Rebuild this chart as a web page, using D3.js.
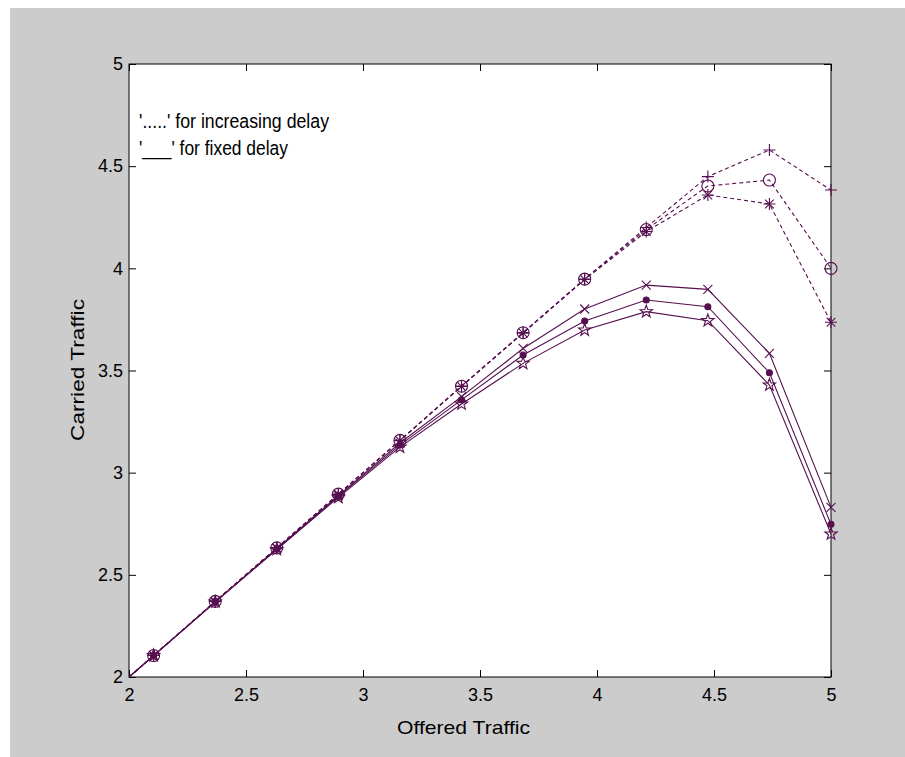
<!DOCTYPE html>
<html>
<head>
<meta charset="utf-8">
<script src="https://cdnjs.cloudflare.com/ajax/libs/d3/7.8.5/d3.min.js"></script>
<style>
html,body{margin:0;padding:0;background:#fff;}
svg{display:block;}
text{fill:#000;}
</style>
</head>
<body>
<svg id="chart" width="905" height="757"></svg>
<script>
// ---- data ----
const offered = [35/19, 40/19, 45/19, 50/19, 55/19, 60/19, 65/19, 70/19, 75/19, 80/19, 85/19, 90/19, 95/19];
// increasing delay (dashed)
const incPlus   = [1.842, 2.105, 2.370, 2.632, 2.895, 3.158, 3.424, 3.686, 3.948, 4.200, 4.449, 4.579, 4.383];
const incCircle = [1.842, 2.105, 2.370, 2.632, 2.895, 3.158, 3.423, 3.685, 3.947, 4.190, 4.403, 4.432, 4.000];
const incStar   = [1.842, 2.105, 2.370, 2.631, 2.894, 3.157, 3.422, 3.683, 3.945, 4.180, 4.359, 4.315, 3.736];
// fixed delay (solid)
const fixX      = [1.842, 2.105, 2.368, 2.628, 2.888, 3.145, 3.372, 3.608, 3.801, 3.918, 3.897, 3.584, 2.830];
const fixDot    = [1.842, 2.105, 2.368, 2.626, 2.884, 3.135, 3.356, 3.576, 3.742, 3.845, 3.812, 3.489, 2.747];
const fixPent   = [1.842, 2.105, 2.367, 2.624, 2.879, 3.125, 3.336, 3.535, 3.698, 3.788, 3.744, 3.429, 2.700];
const xTicks = [2, 2.5, 3, 3.5, 4, 4.5, 5];
const yTicks = [2, 2.5, 3, 3.5, 4, 4.5, 5];
const legendLines = ["'.....' for increasing delay", "'___' for fixed delay"];

const series = [
  {y: incPlus,   dash: "4,3", marker: "plus"},
  {y: incCircle, dash: "4,3", marker: "circle"},
  {y: incStar,   dash: "4,3", marker: "star"},
  {y: fixX,      dash: null,  marker: "x"},
  {y: fixDot,    dash: null,  marker: "dot"},
  {y: fixPent,   dash: null,  marker: "pent"}
];

const color = "#55104f";
const svg = d3.select("#chart");
const L = 129, R = 831, T = 64, B = 677;

svg.append("rect").attr("x", 10).attr("y", 8).attr("width", 895).attr("height", 749).attr("fill", "#cccccc");
svg.append("rect").attr("x", L).attr("y", T).attr("width", R - L).attr("height", B - T).attr("fill", "#fff");

const x = d3.scaleLinear().domain([2, 5]).range([L, R]);
const y = d3.scaleLinear().domain([2, 5]).range([B, T]);

svg.append("clipPath").attr("id", "clip").append("rect")
  .attr("x", L).attr("y", T).attr("width", R - L).attr("height", B - T);

const font = "'Liberation Sans Narrow','Arial Narrow','Liberation Sans',sans-serif";

// axes
const gx = svg.append("g").attr("transform", `translate(0,${B})`)
  .call(d3.axisBottom(x).tickValues(xTicks).tickFormat(d3.format("")).tickSize(-7).tickPadding(11));
const gxt = svg.append("g").attr("transform", `translate(0,${T})`)
  .call(d3.axisTop(x).tickValues(xTicks).tickFormat("").tickSize(-7));
const gy = svg.append("g").attr("transform", `translate(${L},0)`)
  .call(d3.axisLeft(y).tickValues(yTicks).tickFormat(d3.format("")).tickSize(-7).tickPadding(6));
const gyr = svg.append("g").attr("transform", `translate(${R},0)`)
  .call(d3.axisRight(y).tickValues(yTicks).tickFormat("").tickSize(-7));
[gx, gxt, gy, gyr].forEach(g => {
  g.select(".domain").remove();
  g.selectAll("line").attr("stroke", "#000").attr("stroke-width", 1);
  g.selectAll("text").attr("font-family", font).attr("font-size", 18).attr("fill", "#000");
});
gy.selectAll("text").attr("dy", "0.32em");
svg.append("rect").attr("x", L).attr("y", T).attr("width", R - L).attr("height", B - T)
  .attr("fill", "none").attr("stroke", "#000").attr("stroke-width", 1);

// lines & markers
const plot = svg.append("g").attr("clip-path", "url(#clip)");
const line = d3.line().x((d, i) => x(offered[i])).y(d => y(d));

series.forEach(s => {
  plot.append("path").datum(s.y).attr("d", line)
    .attr("fill", "none").attr("stroke", color).attr("stroke-width", 1.1)
    .attr("stroke-dasharray", s.dash);
});

const mk = svg.append("g").attr("fill", "none").attr("stroke", color).attr("stroke-width", 1.1);
function drawMarker(kind, cx, cy) {
  const g = mk.append("g").attr("transform", `translate(${cx},${cy})`);
  const r = 6;
  if (kind === "plus" || kind === "star") {
    g.append("path").attr("d", `M${-r},0H${r}M0,${-r}V${r}`);
  }
  if (kind === "x" || kind === "star") {
    const a = kind === "star" ? r * 0.72 : r * 0.75;
    g.append("path").attr("d", `M${-a},${-a}L${a},${a}M${-a},${a}L${a},${-a}`);
  }
  if (kind === "circle") g.append("circle").attr("r", r);
  if (kind === "dot") g.append("circle").attr("r", 3).attr("fill", color);
  if (kind === "pent") {
    const pts = [];
    for (let k = 0; k < 10; k++) {
      const ang = -Math.PI / 2 + k * Math.PI / 5;
      const rr = k % 2 === 0 ? 6.5 : 2.6;
      pts.push([rr * Math.cos(ang), rr * Math.sin(ang)]);
    }
    g.append("path").attr("d", "M" + pts.map(p => p.join(",")).join("L") + "Z");
  }
}
series.forEach(s => {
  s.y.forEach((v, i) => {
    if (offered[i] >= 2) drawMarker(s.marker, x(offered[i]), y(v));
  });
});

// legend text
const legLen = [190, 149];
svg.selectAll(".leg").data(legendLines).enter().append("text")
  .attr("x", 139).attr("y", (d, i) => 128 + i * 27)
  .attr("font-family", font).attr("font-size", 20)
  .attr("textLength", (d, i) => legLen[i]).attr("lengthAdjust", "spacingAndGlyphs")
  .text(d => d);

// axis labels
svg.append("text").attr("x", 397).attr("y", 734)
  .attr("font-family", font).attr("font-size", 19)
  .attr("textLength", 133).attr("lengthAdjust", "spacingAndGlyphs").text("Offered Traffic");
svg.append("text").attr("transform", `translate(84,441)rotate(-90)`)
  .attr("font-family", "'Liberation Sans',Arial,sans-serif").attr("font-size", 19)
  .attr("textLength", 142).attr("lengthAdjust", "spacingAndGlyphs").text("Carried Traffic");
</script>
</body>
</html>
